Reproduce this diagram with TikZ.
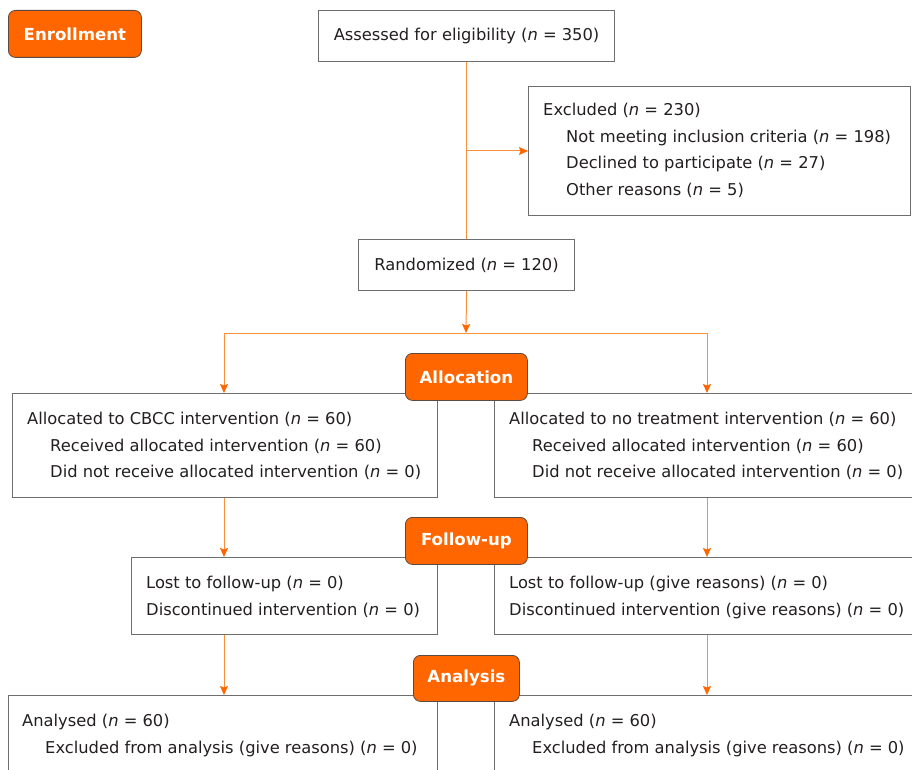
\documentclass[tikz,border=0pt]{standalone}
\usepackage{fontspec}
\setmainfont{DejaVu Sans}
\usetikzlibrary{arrows.meta}
\definecolor{orng}{HTML}{FF6600}
\definecolor{lne}{HTML}{F7913D}
\definecolor{bord}{HTML}{6E6E6E}
\definecolor{stageborder}{HTML}{5A4A40}
\definecolor{txtc}{HTML}{231F20}
\begin{document}
\begin{tikzpicture}[x=1pt,y=-1pt,
  font=\fontsize{16.3}{19}\selectfont, text=txtc,
  box/.style={draw=bord, line width=1.1pt, inner sep=0pt, anchor=north west},
  stage/.style={draw=stageborder, line width=0.8pt, fill=orng, rounded corners=7pt, text=white,
    font=\fontsize{16.6}{19}\selectfont\bfseries, inner sep=0pt, anchor=north west},
  conn/.style={draw=lne, line width=1pt},
  arr/.style={conn, -{Stealth[length=9pt,width=8pt,inset=1.5pt,color=orng]}},
  txt/.style={anchor=base west, inner sep=0pt}]
\useasboundingbox (0,0) rectangle (912,770);
% boxes
\node[box, minimum width=296pt, minimum height=51pt] (assess) at (318,10) {};
\node[box, minimum width=382pt, minimum height=129pt] (excl) at (528,86) {};
\node[box, minimum width=216pt, minimum height=51pt] (rand) at (358,239) {};
\node[box, minimum width=425pt, minimum height=104pt] (alL) at (12,393) {};
\node[box, minimum width=425pt, minimum height=104pt] (alR) at (494,393) {};
\node[box, minimum width=306pt, minimum height=77pt] (fuL) at (131,557) {};
\node[box, minimum width=425pt, minimum height=77pt] (fuR) at (494,557) {};
\node[box, minimum width=429pt, minimum height=100pt] (anL) at (8,695) {};
\node[box, minimum width=425pt, minimum height=100pt] (anR) at (494,695) {};
% texts
\node[inner sep=0pt] (tassess) at (assess.center) {Assessed for eligibility (\textit{n} = 350)};
\node[inner sep=0pt] (trand) at (rand.center) {Randomized (\textit{n} = 120)};
\node[txt] (e1) at (543,116) {Excluded (\textit{n} = 230)};
\node[txt] (e2) at (566,143) {Not meeting inclusion criteria (\textit{n} = 198)};
\node[txt] (e3) at (566,169) {Declined to participate (\textit{n} = 27)};
\node[txt] (e4) at (566,196) {Other reasons (\textit{n} = 5)};
\node[txt] (l1) at (27,424) {Allocated to CBCC intervention (\textit{n} = 60)};
\node[txt] (l2) at (50,451) {Received allocated intervention (\textit{n} = 60)};
\node[txt] (l3) at (50,477) {Did not receive allocated intervention (\textit{n} = 0)};
\node[txt] (r1) at (509,424) {Allocated to no treatment intervention (\textit{n} = 60)};
\node[txt] (r2) at (532,451) {Received allocated intervention (\textit{n} = 60)};
\node[txt] (r3) at (532,477) {Did not receive allocated intervention (\textit{n} = 0)};
\node[txt] (fl1) at (146,588) {Lost to follow-up (\textit{n} = 0)};
\node[txt] (fl2) at (146,615) {Discontinued intervention (\textit{n} = 0)};
\node[txt] (fr1) at (509,588) {Lost to follow-up (give reasons) (\textit{n} = 0)};
\node[txt] (fr2) at (509,615) {Discontinued intervention (give reasons) (\textit{n} = 0)};
\node[txt] (al1) at (22,726) {Analysed (\textit{n} = 60)};
\node[txt] (al2) at (45,753) {Excluded from analysis (give reasons) (\textit{n} = 0)};
\node[txt] (ar1) at (509,726) {Analysed (\textit{n} = 60)};
\node[txt] (ar2) at (532,753) {Excluded from analysis (give reasons) (\textit{n} = 0)};
% stage labels
\node[stage, minimum width=133pt, minimum height=47pt] (enr) at (8,10) {Enrollment};
\node[stage, minimum width=122pt, minimum height=47pt] (alloc) at (405,353) {Allocation};
\node[stage, minimum width=122pt, minimum height=47pt] (fu) at (405,517) {Follow-up};
\node[stage, minimum width=106pt, minimum height=46pt] (ana) at (413,655) {Analysis};
% connectors
\coordinate (br) at (466,151);
\coordinate (split) at (466,333);
\coordinate (sl) at (224,333);
\coordinate (sr) at (707,333);
\draw[conn] (assess.south) -- (rand.north);
\draw[arr] (br) -- (excl.west |- br);
\draw[arr] (rand.south) -- (split);
\draw[conn] (sl) -- (sr);
\draw[arr] (sl) -- (sl |- alL.north);
\draw[arr] (sr) -- (sr |- alR.north);
\draw[arr] (sl |- alL.south) -- (sl |- fuL.north);
\draw[arr] (sr |- alR.south) -- (sr |- fuR.north);
\draw[arr] (sl |- fuL.south) -- (sl |- anL.north);
\draw[arr] (sr |- fuR.south) -- (sr |- anR.north);
\end{tikzpicture}
\end{document}
